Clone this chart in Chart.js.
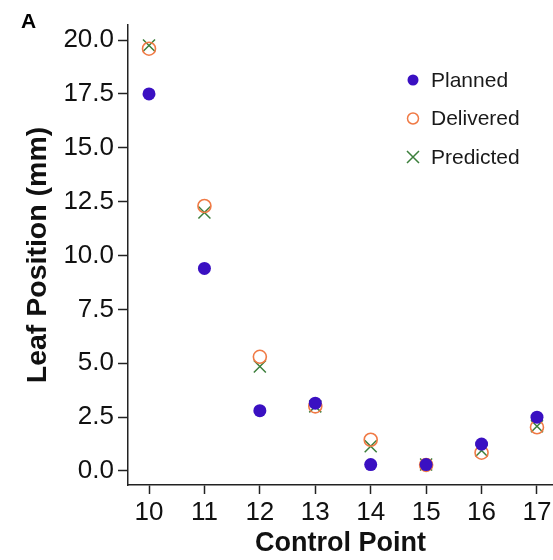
<!DOCTYPE html>
<html>
<head>
<meta charset="utf-8">
<script src="https://cdn.jsdelivr.net/npm/chart.js@4/dist/chart.umd.min.js"></script>
<style>
  html, body { margin: 0; padding: 0; background: #fff; }
  #wrap { position: relative; width: 553px; height: 560px; }
</style>
</head>
<body>
<div id="wrap"><canvas id="leafChart"></canvas></div>
<script>
// Control points on the x axis
const controlPoints = [10, 11, 12, 13, 14, 15, 16, 17];
// Leaf position (mm) for each series
const planned   = [17.5, 9.4, 2.8, 3.15, 0.3, 0.3, 1.25, 2.5];
const delivered = [19.6, 12.3, 5.3, 3.0, 1.45, 0.28, 0.85, 2.03];
const predicted = [19.75, 12.0, 4.85, 3.0, 1.15, 0.3, 0.95, 2.08];
// Tick labels
const xTicks = [10, 11, 12, 13, 14, 15, 16, 17];
const yTicks = [0, 2.5, 5, 7.5, 10, 12.5, 15, 17.5, 20];

const toPoints = vals => controlPoints.map((cp, i) => ({ x: cp, y: vals[i] }));

Chart.defaults.font.family = "'Liberation Sans', Arial, sans-serif";
Chart.defaults.color = '#111';

// panel letter + legend drawn by hand, legend sits inside the plot
const extras = {
    id: 'extras',
    afterDraw(chart) {
        const ctx = chart.ctx;
        ctx.save();
        ctx.fillStyle = '#000';
        ctx.font = "bold 21px 'Liberation Sans', Arial, sans-serif";
        ctx.textBaseline = 'alphabetic';
        ctx.fillText('A', 21, 28);

        ctx.font = "21px 'Liberation Sans', Arial, sans-serif";
        ctx.textBaseline = 'middle';
        chart.data.datasets.forEach((ds, i) => {
            const x = 413, y = 80 + i * 38.5;
            ctx.lineWidth = 1.5;
            ctx.strokeStyle = ds.borderColor;
            ctx.fillStyle = ds.backgroundColor;
            if (ds.pointStyle === 'crossRot') {
                ctx.beginPath();
                ctx.moveTo(x - 6, y - 6); ctx.lineTo(x + 6, y + 6);
                ctx.moveTo(x + 6, y - 6); ctx.lineTo(x - 6, y + 6);
                ctx.stroke();
            } else {
                ctx.beginPath();
                ctx.arc(x, y, ds.legendRadius, 0, Math.PI * 2);
                if (ds.filled) ctx.fill(); else ctx.stroke();
            }
            ctx.fillStyle = '#1a1a1a';
            ctx.fillText(ds.label, 431, y + 1);
        });
        ctx.restore();
    }
};

new Chart(document.getElementById('leafChart'), {
    type: 'scatter',
    data: {
        datasets: [
            {
                label: 'Planned',
                data: toPoints(planned),
                pointStyle: 'circle',
                backgroundColor: '#3a10c2',
                borderColor: '#3a10c2',
                pointRadius: 6.5,
                borderWidth: 0,
                filled: true,
                legendRadius: 5.5
            },
            {
                label: 'Delivered',
                data: toPoints(delivered),
                pointStyle: 'circle',
                backgroundColor: 'rgba(0,0,0,0)',
                borderColor: '#f07a45',
                pointRadius: 6.5,
                borderWidth: 1.6,
                filled: false,
                legendRadius: 5.5
            },
            {
                label: 'Predicted',
                data: toPoints(predicted),
                pointStyle: 'crossRot',
                backgroundColor: '#3c7f3c',
                borderColor: '#3c7f3c',
                pointRadius: 8.5,
                borderWidth: 1.5
            }
        ]
    },
    options: {
        responsive: true,
        maintainAspectRatio: false,
        animation: false,
        layout: { autoPadding: false, padding: { top: 25, right: 0, bottom: 0, left: 0 } },
        plugins: {
            legend: { display: false },
            tooltip: { enabled: false }
        },
        scales: {
            x: {
                type: 'linear',
                min: 9.621,
                max: 17.289,
                afterFit: s => { s.height = 75; s.paddingLeft = 0; s.paddingRight = 0; },
                afterBuildTicks: s => { s.ticks = xTicks.map(v => ({ value: v })); },
                grid: { drawOnChartArea: false, drawTicks: true, tickLength: 9, tickColor: '#222', tickWidth: 1.5 },
                border: { display: true, color: '#222', width: 1.5 },
                ticks: { font: { size: 26 }, color: '#111', padding: 3, maxRotation: 0 },
                title: {
                    display: true,
                    text: 'Control Point',
                    font: { size: 27, weight: 'bold' },
                    color: '#111',
                    padding: { top: 0, bottom: 0 }
                }
            },
            y: {
                type: 'linear',
                min: -0.65,
                max: 20.70,
                afterFit: s => { s.width = 128; s.paddingTop = 0; s.paddingBottom = 0; },
                afterBuildTicks: s => { s.ticks = yTicks.map(v => ({ value: v })); },
                grid: { drawOnChartArea: false, drawTicks: true, tickLength: 10, tickColor: '#222', tickWidth: 1.5 },
                border: { display: true, color: '#222', width: 1.5 },
                ticks: {
                    font: { size: 26 },
                    color: '#111',
                    padding: 4,
                    callback: v => v.toFixed(1)
                },
                title: {
                    display: true,
                    text: 'Leaf Position (mm)',
                    font: { size: 28.5, weight: 'bold' },
                    color: '#111',
                    padding: { top: 21, bottom: 0 }
                }
            }
        }
    },
    plugins: [extras]
});
</script>
</body>
</html>
